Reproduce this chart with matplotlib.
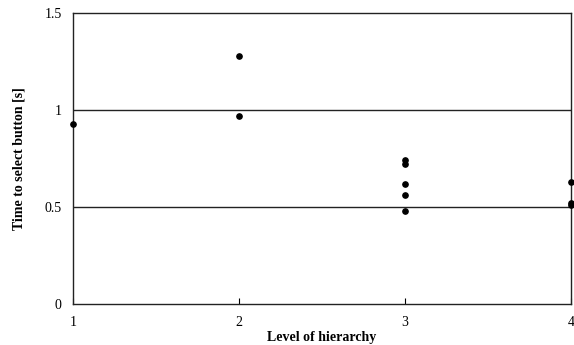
import numpy as np
import matplotlib.pyplot as plt

plt.rcParams['font.family'] = ['Liberation Serif', 'DejaVu Serif']

# data
level = [1, 2, 2, 3, 3, 3, 3, 3, 4, 4, 4]
time_s = [0.93, 1.28, 0.97, 0.74, 0.72, 0.62, 0.56, 0.48, 0.63, 0.52, 0.51]
xticks = [1, 2, 3, 4]
yticks = [0, 0.5, 1, 1.5]

fig = plt.figure(figsize=(5.74, 3.45), dpi=100)
ax = fig.add_axes([0.127, 0.119, 0.868, 0.843])

for yv in [0.5, 1.0]:
    ax.axhline(yv, color='#222222', lw=1.0, zorder=1)

ax.plot(level, time_s, 'o', color='black', markersize=3.8, clip_on=False, zorder=3)

ax.set_xlim(1, 4)
ax.set_ylim(0, 1.5)
ax.set_xticks(xticks)
ax.set_yticks(yticks)
ax.set_yticklabels(['0', '0.5', '1', '1.5'])
ax.tick_params(axis='x', direction='in', length=4, width=0.8, labelsize=10, pad=9)
ax.tick_params(axis='y', length=0, labelsize=10, pad=8)
for s in ax.spines.values():
    s.set_linewidth(1.0)
    s.set_color('#222222')

ax.set_xlabel('Level of hierarchy', fontsize=10, fontweight='bold', labelpad=1)
ax.set_ylabel('Time to select button [s]', fontsize=10, fontweight='bold', labelpad=14)

fig.savefig('out.png', dpi=100)
